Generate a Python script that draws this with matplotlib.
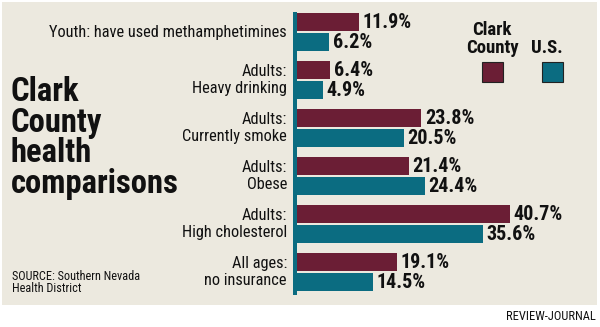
import matplotlib
matplotlib.use("Agg")
import matplotlib.pyplot as plt
from matplotlib import font_manager as fm
from matplotlib.patches import Rectangle

categories = ["Youth: have used methamphetimines", "Adults:\nHeavy drinking",
              "Adults:\nCurrently smoke", "Adults:\nObese",
              "Adults:\nHigh cholesterol", "All ages:\nno insurance"]
clark = [11.9, 6.4, 23.8, 21.4, 40.7, 19.1]
us = [6.2, 4.9, 20.5, 24.4, 35.6, 14.5]
series_names = ["Clark\nCounty", "U.S."]

MAROON = "#6B1E35"
TEAL = "#0B6C81"
BEIGE = "#ECE9DF"

names = {(f.name, f.stretch) for f in fm.fontManager.ttflist}
fam_names = {n for n, s in names}
FONT = "DejaVu Sans"
STRETCH = "normal"
for cand in ["Liberation Sans Narrow", "Roboto Condensed", "Open Sans Condensed"]:
    if cand in fam_names:
        FONT = cand
        break
else:
    if any(n == "DejaVu Sans" and s in ("condensed", 500, "semi-condensed") for n, s in names):
        FONT = "DejaVu Sans"
        STRETCH = "condensed"
    elif "Roboto" in fam_names:
        FONT = "Roboto"
plt.rcParams['font.family'] = [FONT, "DejaVu Sans"]
plt.rcParams['font.stretch'] = STRETCH

W, H = 600, 327
fig = plt.figure(figsize=(W / 100, H / 100), dpi=100, facecolor="white")

def fx(x):
    return x / W

def fy(y):
    return 1 - y / H

fig.patches.append(Rectangle((fx(2), fy(305)), fx(595), 303 / H,
                             transform=fig.transFigure, facecolor=BEIGE,
                             edgecolor="none", zorder=0))
fig.patches.append(Rectangle((fx(293), fy(295)), fx(4), 283 / H,
                             transform=fig.transFigure, facecolor=TEAL,
                             edgecolor="none", zorder=1))

px_per_unit = 5.23
ax = fig.add_axes([fx(297), 0, fx(300), 1])
ax.set_zorder(5)
ax.set_xlim(0, 300 / px_per_unit)
ax.set_ylim((H - 32) / 48, -32 / 48)
ax.axis("off")
ax.patch.set_alpha(0)

pos = list(range(len(categories)))
off = 10 / 48
h = 18 / 48
ax.barh([p - off for p in pos], clark, height=h, color=MAROON, zorder=2)
ax.barh([p + off for p in pos], us, height=h, color=TEAL, zorder=2)
gap = 3.5 / px_per_unit
for p, v in zip(pos, clark):
    ax.text(v + gap, p - off, f"{v:.1f}%", va="center", ha="left",
            fontsize=14.5, fontweight="bold", color="#111111")
for p, v in zip(pos, us):
    ax.text(v + gap, p + off, f"{v:.1f}%", va="center", ha="left",
            fontsize=14.5, fontweight="bold", color="#111111")

for i, c in enumerate(categories):
    fig.text(fx(287), fy(32 + 48 * i), c, ha="right", va="center",
             fontsize=11.8, linespacing=1.1, color="#111111", zorder=6)

title_lines = ["Clark", "County", "health", "comparisons"]
for i, t in enumerate(title_lines):
    fig.text(fx(11), fy(101 + 30.5 * i), t, ha="left", va="baseline",
             fontsize=23.5, fontweight="heavy", color="#111111", zorder=6)

fig.text(fx(12), fy(280), "SOURCE: Southern Nevada", ha="left",
         va="baseline", fontsize=8.8, color="#111111", zorder=6)
fig.text(fx(12), fy(292), "Health District", ha="left",
         va="baseline", fontsize=8.8, color="#111111", zorder=6)

fig.text(fx(492), fy(53), series_names[0], ha="center", va="baseline",
         fontsize=13.5, fontweight="bold", linespacing=1.0, color="#111111", zorder=6)
fig.text(fx(547), fy(53), series_names[1], ha="center", va="baseline",
         fontsize=13.5, fontweight="bold", color="#111111", zorder=6)
for x0, col in [(482, MAROON), (542, TEAL)]:
    fig.patches.append(Rectangle((fx(x0), fy(82)), fx(21), 20 / H,
                                 transform=fig.transFigure, facecolor=col,
                                 edgecolor="#222222", linewidth=0.8, zorder=2))

fig.text(fx(596), fy(320), "REVIEW-JOURNAL", ha="right", va="baseline",
         fontsize=9, color="#111111", zorder=6)

fig.savefig("out.png", dpi=100, facecolor="white")
